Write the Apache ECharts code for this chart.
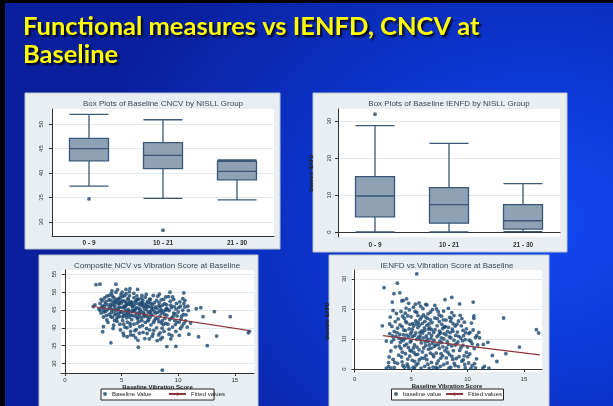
<!DOCTYPE html>
<html><head><meta charset="utf-8">
<script src="https://cdn.jsdelivr.net/npm/echarts@6/dist/echarts.min.js"></script>
<style>
html,body{margin:0;padding:0;width:613px;height:406px;overflow:hidden;background:#0a2ab8;}
#c{width:613px;height:406px;background:radial-gradient(ellipse 75% 90% at 88% 55%, #1249f2 0%, #0d3ad8 35%, #0b2cb8 70%, #091f9c 100%);}
</style></head><body><div id="c"></div>
<script>
// ---------- data ----------
const boxCategories = ['0 - 9', '10 - 21', '21 - 30'];
// [min, Q1, median, Q3, max]
const cncvBox = [[37.3, 42.5, 45.0, 47.1, 52.0], [34.8, 40.9, 43.6, 46.2, 50.9], [34.5, 38.6, 40.35, 42.4, 42.7]];
const cncvOutliers = [[0, 34.7], [1, 28.3]];
const ienfdBox = [[0, 4.1, 9.75, 15.0, 28.8], [0, 2.4, 7.4, 12.0, 24.0], [0.1, 0.8, 3.05, 7.4, 13.1]];
const ienfdOutliers = [[0, 31.9]];

const cncvTicks = [30, 35, 40, 45, 50];
const ienfdTicks = [0, 10, 20, 30];
const vibTicks = [0, 5, 10, 15];
const ncvTicks = [30, 35, 40, 45, 50, 55];
const ienfdScTicks = [0, 10, 20, 30];

const ncvScatter = [
[2.74,52.0],[3.09,52.15],[4.5,52.15],[5.39,50.7],[5.74,50.9],[6.42,50.7],[9.28,49.9],[10.5,49.7],
[4.06,35.8],[6.48,34.6],[8.6,28.2],[9.0,34.75],[9.8,34.8],[12.57,35.0],[13.4,37.7],[11.8,37.5],
[10.95,38.2],[14.6,43.1],[13.2,44.5],[16.2,38.6],[16.3,39.0],[11.6,45.3],[12.0,45.6],[12.2,43.1],
[11.1,41.3],[2.5,45.9],[2.65,46.4],[3.33,38.9],[3.4,40.3],
[3.0,45.2],[3.1,46.8],[3.2,44.1],[3.3,47.5],[3.4,43.0],[3.5,45.9],[3.5,48.3],[3.6,44.6],[3.7,42.2],
[3.8,46.4],[3.9,49.0],[3.9,43.7],[3.2,47.9],[3.4,45.0],[3.6,47.2],[3.8,41.5],[3.1,44.8],[3.7,48.8],
[3.3,46.1],[3.95,45.5],
[4.0,47.8],[4.1,44.2],[4.1,49.6],[4.2,42.9],[4.2,46.3],[4.3,48.5],[4.3,40.7],[4.4,45.4],[4.4,43.6],
[4.5,47.1],[4.5,49.9],[4.6,41.8],[4.6,44.9],[4.7,46.7],[4.7,48.1],[4.8,43.2],[4.8,45.8],[4.9,39.4],
[4.9,47.5],[4.0,45.9],[4.15,50.3],[4.35,46.9],[4.55,42.5],[4.75,44.0],[4.95,49.2],[4.25,39.8],
[4.65,50.6],[4.45,47.9],[4.85,41.0],[4.05,43.1],
[5.0,44.5],[5.0,46.9],[5.1,42.0],[5.1,48.7],[5.2,45.6],[5.2,43.3],[5.3,47.4],[5.3,40.2],[5.4,46.2],
[5.4,49.5],[5.5,44.1],[5.5,41.6],[5.6,47.8],[5.6,45.1],[5.7,43.0],[5.7,48.9],[5.8,46.4],[5.8,39.0],
[5.9,44.7],[5.9,42.3],[5.05,49.9],[5.15,38.5],[5.25,46.0],[5.35,44.9],[5.45,42.8],[5.55,48.2],
[5.65,46.6],[5.75,41.2],[5.85,47.2],[5.95,45.8],[5.2,37.8],[5.5,37.5],[5.8,38.0],[5.4,47.0],[5.6,43.9],
[6.0,46.0],[6.0,43.4],[6.1,48.4],[6.1,41.0],[6.2,45.2],[6.2,47.3],[6.3,44.0],[6.3,39.5],[6.4,46.8],
[6.4,42.5],[6.5,48.0],[6.5,45.5],[6.6,43.7],[6.6,40.3],[6.7,47.0],[6.7,44.6],[6.8,42.0],[6.8,49.0],
[6.9,45.9],[6.9,38.7],[6.05,37.9],[6.25,37.2],[6.45,36.5],[6.15,44.8],[6.35,48.9],[6.55,41.8],
[6.75,46.3],[6.95,43.1],[6.3,47.7],[6.6,46.5],[6.85,40.6],[6.45,43.0],
[7.0,46.6],[7.0,43.8],[7.1,41.5],[7.1,48.5],[7.2,45.0],[7.2,39.8],[7.3,47.4],[7.3,43.0],[7.4,45.9],
[7.4,42.2],[7.5,48.0],[7.5,44.5],[7.6,40.8],[7.6,46.8],[7.7,43.5],[7.7,37.6],[7.8,45.3],[7.8,49.0],
[7.9,42.0],[7.9,47.0],[7.05,37.0],[7.25,38.4],[7.45,36.9],[7.65,44.9],[7.85,39.3],[7.15,46.0],
[7.55,47.9],[7.35,44.3],
[8.0,45.8],[8.0,42.6],[8.1,47.6],[8.1,40.0],[8.2,44.3],[8.2,48.8],[8.3,41.7],[8.3,46.2],[8.4,43.3],
[8.4,38.6],[8.5,45.0],[8.5,47.8],[8.6,42.0],[8.6,37.3],[8.7,44.6],[8.7,40.9],[8.8,46.7],[8.8,43.7],
[8.9,41.2],[8.9,48.6],[8.15,36.4],[8.45,36.8],[8.75,39.0],[8.35,49.4],[8.55,44.1],[8.95,45.4],
[9.0,43.5],[9.0,46.4],[9.1,41.0],[9.2,44.8],[9.2,39.6],[9.3,47.4],[9.4,42.7],[9.4,45.6],[9.5,40.2],
[9.6,44.1],[9.6,47.9],[9.7,42.0],[9.8,45.2],[9.8,39.0],[9.9,43.3],[9.15,48.7],[9.45,37.8],[9.75,40.9],
[9.35,36.9],[9.85,46.8],
[10.0,44.4],[10.1,41.6],[10.2,46.0],[10.2,39.8],[10.3,43.2],[10.4,44.9],[10.5,41.2],[10.6,45.8],
[10.6,47.6],[10.7,43.6],[10.8,40.2],[10.9,44.8],[10.4,48.1],[10.1,37.9],[10.5,46.7],
[3.55,46.6],[3.65,43.4],[3.75,45.1],[3.85,47.7],[3.45,44.4],[3.25,45.7],[4.05,46.6],[4.12,45.1],
[4.22,47.4],[4.32,44.6],[4.42,46.1],[4.52,43.9],[4.62,47.6],[4.72,45.4],[4.82,46.9],[4.92,44.3],
[4.38,42.0],[4.68,43.0],[4.18,48.9],[4.88,48.4],
[5.02,45.7],[5.12,47.5],[5.22,44.0],[5.32,45.9],[5.42,43.5],[5.52,46.6],[5.62,44.6],[5.72,47.1],
[5.82,43.6],[5.92,46.9],[5.18,41.0],[5.48,40.0],[5.78,40.5],[5.28,49.0],[5.68,50.0],[5.08,43.0],
[6.02,44.7],[6.12,46.5],[6.22,43.2],[6.32,45.6],[6.42,47.9],[6.52,44.2],[6.62,45.1],[6.72,42.8],
[6.82,46.9],[6.92,44.3],[6.18,39.2],[6.58,38.5],[6.78,48.1],[6.38,41.3],[6.88,47.6],[6.08,49.6],
[7.02,45.3],[7.12,43.4],[7.22,46.7],[7.32,41.9],[7.42,47.0],[7.52,42.9],[7.62,45.7],[7.72,46.4],
[7.82,41.5],[7.92,44.4],[7.18,49.3],[7.48,39.4],[7.78,38.3],[7.28,45.9],[7.58,44.0],
[8.02,44.1],[8.12,45.4],[8.22,42.5],[8.32,47.0],[8.42,45.8],[8.52,41.3],[8.62,46.3],[8.72,47.9],
[8.82,42.6],[8.92,44.9],[8.28,38.0],[8.58,39.9],[8.38,44.7],
[9.05,45.2],[9.25,42.3],[9.35,46.3],[9.55,43.2],[9.65,45.9],[9.9,41.6],[9.2,38.2],[9.5,48.6],[9.7,43.9],
[10.05,45.6],[10.25,42.4],[10.45,43.7],[10.65,41.9],[10.85,46.0],[10.35,40.5],[10.15,47.2]
];
const ncvFit = [[2.4, 46.0], [16.3, 39.2]];

const ienfdScatter = [
[2.6,27.1],[2.45,14.4],[2.8,9.3],[3.33,22.3],[3.48,25.1],[3.78,28.6],[4.0,25.4],[2.8,0.3],[3.0,0.8],
[3.2,0.3],[3.5,0.5],[3.1,11.8],[3.3,14.2],[3.4,3.2],[3.5,12.5],[3.6,7.4],[3.7,18.5],[3.8,1.9],
[3.9,10.3],[3.2,6.0],[3.6,15.8],[3.9,4.6],[3.0,2.1],[3.75,12.1],[3.45,9.8],[3.85,16.7],[3.15,17.3],
[4.0,11.5],[4.1,6.8],[4.1,19.2],[4.2,2.4],[4.2,14.1],[4.3,9.5],[4.3,22.9],[4.4,0.6],[4.4,16.9],
[4.5,5.1],[4.5,12.8],[4.6,8.3],[4.6,23.4],[4.7,3.3],[4.7,17.7],[4.8,10.7],[4.8,0.2],[4.9,14.9],
[4.9,6.2],[4.05,8.9],[4.25,17.6],[4.45,10.2],[4.65,1.6],[4.85,19.7],[4.95,11.8],[4.15,4.0],
[4.35,13.0],[4.55,20.3],[4.75,7.2],[4.6,15.4],
[5.0,9.4],[5.0,17.4],[5.1,2.9],[5.1,13.3],[5.2,20.6],[5.2,7.0],[5.3,11.2],[5.3,0.4],[5.4,16.0],
[5.4,4.8],[5.5,31.7],[5.5,9.9],[5.5,18.9],[5.6,1.8],[5.6,13.8],[5.7,22.0],[5.7,6.4],[5.8,11.0],
[5.8,16.6],[5.9,3.6],[5.9,8.7],[5.05,12.4],[5.15,15.1],[5.25,5.5],[5.35,19.2],[5.45,1.3],[5.65,10.6],
[5.75,14.6],[5.85,20.9],[5.95,12.7],[5.3,8.0],[5.6,17.8],
[6.0,15.2],[6.0,5.7],[6.1,10.4],[6.1,18.0],[6.2,0.9],[6.2,12.8],[6.3,21.5],[6.3,7.8],[6.4,3.1],
[6.4,14.6],[6.5,9.2],[6.5,18.4],[6.6,0.3],[6.6,11.9],[6.7,5.3],[6.7,16.4],[6.8,13.1],[6.8,2.2],
[6.9,8.6],[6.9,19.8],[6.05,20.1],[6.15,3.6],[6.35,11.0],[6.45,16.9],[6.55,6.6],[6.75,10.1],
[6.85,15.5],[6.95,0.6],[6.25,9.0],[6.65,13.7],[6.4,21.4],
[7.0,12.2],[7.0,4.1],[7.1,17.0],[7.1,21.2],[7.2,8.0],[7.2,0.5],[7.3,14.4],[7.3,10.8],[7.4,2.7],
[7.4,19.1],[7.5,6.9],[7.5,15.8],[7.6,12.0],[7.6,0.9],[7.7,8.8],[7.7,17.6],[7.8,4.4],[7.8,13.5],
[7.9,10.0],[7.9,1.5],[7.05,7.5],[7.25,20.0],[7.45,11.4],[7.65,5.1],[7.85,16.4],[7.35,0.2],[7.55,9.3],
[7.95,14.0],
[8.0,23.1],[8.0,6.1],[8.1,11.4],[8.1,16.3],[8.2,2.0],[8.2,9.1],[8.3,13.9],[8.3,20.2],[8.4,4.8],
[8.4,10.7],[8.5,0.6],[8.5,15.9],[8.6,23.9],[8.6,7.7],[8.6,18.8],[8.7,12.6],[8.7,3.2],[8.8,9.6],
[8.8,17.8],[8.9,1.1],[8.9,14.3],[8.15,7.0],[8.45,12.1],[8.75,6.1],[8.35,0.3],[8.95,11.2],[8.55,16.8],
[9.0,8.4],[9.0,3.5],[9.1,12.3],[9.2,16.0],[9.2,0.8],[9.3,21.7],[9.3,6.2],[9.4,10.3],[9.5,16.8],
[9.5,2.6],[9.6,7.9],[9.6,12.9],[9.7,4.4],[9.8,9.8],[9.8,0.4],[9.9,13.4],[9.9,5.5],[9.15,9.0],
[9.45,14.4],[9.75,1.5],[9.25,4.1],[9.65,11.1],
[10.0,7.3],[10.1,11.8],[10.1,2.0],[10.2,5.0],[10.3,9.2],[10.4,1.1],[10.5,22.3],[10.5,13.0],
[10.56,17.7],[10.56,16.9],[10.6,6.8],[10.7,10.5],[10.8,3.4],[10.9,8.0],[11.0,12.2],[11.06,10.4],
[11.4,8.2],[11.8,8.9],[11.35,0.3],[11.9,0.3],[12.2,4.5],[12.6,2.5],[13.4,5.1],[14.6,7.3],[13.2,17.0],
[16.1,13.1],[16.3,12.0],[10.3,0.2],[10.7,0.4],[11.5,0.9],
[3.05,4.0],[3.25,9.0],[3.35,11.0],[3.55,2.2],[3.65,10.9],[3.8,13.6],[3.95,7.6],[3.4,19.5],[3.1,15.0],
[4.02,14.7],[4.12,10.0],[4.22,5.6],[4.32,11.4],[4.42,7.8],[4.52,15.9],[4.62,11.3],[4.72,0.9],
[4.82,13.4],[4.92,9.0],[4.28,1.2],[4.48,18.6],[4.78,21.9],[4.18,22.7],[4.88,4.3],
[5.02,6.0],[5.12,10.8],[5.22,14.3],[5.32,2.5],[5.42,12.0],[5.52,7.3],[5.62,15.6],[5.72,3.0],
[5.82,9.8],[5.92,17.3],[5.18,0.5],[5.38,21.6],[5.58,4.9],[5.78,12.2],[5.48,14.9],[5.88,0.3],
[6.02,12.0],[6.12,7.0],[6.22,15.9],[6.32,4.5],[6.42,10.0],[6.52,13.3],[6.62,8.0],[6.72,19.0],
[6.82,11.1],[6.92,4.8],[6.28,17.4],[6.48,1.6],[6.78,6.9],[6.58,15.0],[6.18,13.7],
[7.02,9.6],[7.12,13.1],[7.22,5.3],[7.32,16.8],[7.42,8.1],[7.52,12.6],[7.62,3.6],[7.72,14.9],
[7.82,7.4],[7.92,11.8],[7.28,1.8],[7.48,18.0],[7.68,10.4],[7.88,19.3],
[8.02,14.1],[8.12,3.7],[8.22,12.5],[8.32,8.2],[8.42,17.2],[8.52,10.4],[8.62,4.2],[8.72,15.1],
[8.82,1.9],[8.92,8.0],[8.25,5.6],[8.65,13.3],
[9.05,14.9],[9.22,10.9],[9.42,7.1],[9.62,3.0],[9.82,12.1],[9.35,17.9],[9.55,9.4],[9.72,15.6],
[10.02,4.1],[10.22,12.2],[10.42,8.4],[10.62,1.8],[10.82,11.1],[10.35,15.3],[10.15,9.6]
];
const ienfdFit = [[2.5, 11.1], [16.4, 4.7]];

// ---------- styles ----------
const NAVY = '#1a476f';
const FIT = '#90353b';
const PANEL = '#e8eef1';
const FONT = 'Liberation Sans, Arial, sans-serif';
const DOT = 3.8;

function yAxis(grid, min, max, ticks, margin, name, nameGap) {
  return {
    type: 'value', gridIndex: grid, min: min, max: max,
    name: name || '', nameLocation: 'middle', nameGap: nameGap || 0, nameRotate: 90,
    nameTextStyle: { fontSize: 5, color: '#222', fontWeight: 'bold', fontFamily: FONT },
    axisLine: { show: true, lineStyle: { color: '#333', width: 1 } },
    axisTick: { show: true, length: 3, customValues: ticks, lineStyle: { color: '#333' } },
    axisLabel: { customValues: ticks, rotate: 90, fontSize: 6, color: '#333', margin: margin, fontFamily: FONT },
    splitLine: { show: true, lineStyle: { color: '#e2e9ed', width: 1 } }
  };
}
function catAxis(grid, margin) {
  return {
    type: 'category', gridIndex: grid, data: boxCategories, boundaryGap: true,
    axisLine: { show: true, lineStyle: { color: '#333', width: 1 } },
    axisTick: { show: false },
    axisLabel: { fontSize: 6.5, color: '#333', margin: margin, fontFamily: FONT, fontWeight: 'bold' },
    splitLine: { show: false }
  };
}
function valXAxis(grid, min, max) {
  return {
    type: 'value', gridIndex: grid, min: min, max: max,
    name: 'Baseline Vibration Score', nameLocation: 'middle', nameGap: 11,
    nameTextStyle: { fontSize: 6, color: '#222', fontWeight: 'bold', fontFamily: FONT },
    axisLine: { show: true, lineStyle: { color: '#333', width: 1 } },
    axisTick: { show: true, length: 3, customValues: vibTicks, lineStyle: { color: '#333' } },
    axisLabel: { customValues: vibTicks, fontSize: 6, color: '#333', margin: 4, fontFamily: FONT },
    splitLine: { show: false }
  };
}
function panelText(x, y, text) {
  return { type: 'text', x: x, y: y, z: 5,
    style: { text: text, fill: '#3c4a5a', font: '8px ' + FONT, align: 'center', verticalAlign: 'middle' } };
}
function panelRect(x, y, w, h) {
  return { type: 'rect', z: -10, shape: { x: x, y: y, width: w, height: h },
    style: { fill: PANEL, stroke: '#b9c5cc', lineWidth: 1 } };
}
const boxStyle = { color: '#8ea1b5', borderColor: '#3b5878', borderWidth: 1.3 };
const titleStyle = { fill: '#ffff00', font: 'bold 25.5px Lato, sans-serif', verticalAlign: 'middle',
  textShadowColor: 'rgba(0,0,0,0.85)', textShadowOffsetX: 2, textShadowOffsetY: 2, textShadowBlur: 2 };

const option = {
  animation: false,
  textStyle: { fontFamily: FONT },
  grid: [
    { left: 52, top: 109, width: 222, height: 127, show: true, backgroundColor: '#fff', borderWidth: 0 },
    { left: 338, top: 109, width: 222, height: 128, show: true, backgroundColor: '#fff', borderWidth: 0 },
    { left: 61, top: 270, width: 193, height: 103, show: true, backgroundColor: '#fff', borderWidth: 0 },
    { left: 352, top: 270, width: 190, height: 102, show: true, backgroundColor: '#fff', borderWidth: 0 }
  ],
  xAxis: [catAxis(0, 4), catAxis(1, 5), valXAxis(2, -0.35, 16.7), valXAxis(3, -0.24, 16.6)],
  yAxis: [
    yAxis(0, 27.1, 53.1, cncvTicks, 8),
    yAxis(1, -1.35, 33.3, ienfdTicks, 6, 'Baseline IENFD', 24),
    yAxis(2, 27.4, 56.1, ncvTicks, 4),
    yAxis(3, -1, 33, ienfdScTicks, 5, 'Baseline IENFD', 22)
  ],
  legend: [
    { left: 103, top: 391, padding: 0, itemWidth: 4, itemHeight: 4, data: ['Baseline Value'],
      textStyle: { fontSize: 6, color: '#222' }, selectedMode: false },
    { left: 168, top: 391, padding: 0, itemWidth: 17, itemHeight: 4, data: ['Fitted values'],
      textStyle: { fontSize: 6, color: '#222' }, selectedMode: false },
    { left: 394, top: 391, padding: 0, itemWidth: 4, itemHeight: 4, data: ['baseline value'],
      textStyle: { fontSize: 6, color: '#222' }, selectedMode: false },
    { left: 445, top: 391, padding: 0, itemWidth: 17, itemHeight: 4, data: ['Fitted values '],
      textStyle: { fontSize: 6, color: '#222' }, selectedMode: false, formatter: function () { return 'Fitted values'; } }
  ],
  graphic: [
    { type: 'rect', z: -20, shape: { x: 0, y: 0, width: 613, height: 3 }, style: { fill: '#000' } },
    { type: 'rect', z: -20, shape: { x: 0, y: 0, width: 5, height: 406 }, style: { fill: '#000' } },
    panelRect(25, 93, 255, 156),
    panelRect(313, 93, 254, 159),
    panelRect(39, 255, 219, 152),
    panelRect(329, 255, 220, 152),
    { type: 'rect', z: 1, shape: { x: 101, y: 389, width: 113, height: 11 }, style: { fill: '#fff', stroke: '#222', lineWidth: 1 } },
    { type: 'rect', z: 1, shape: { x: 391.5, y: 389, width: 112, height: 11 }, style: { fill: '#fff', stroke: '#222', lineWidth: 1 } },
    panelText(163, 103.5, 'Box Plots of Baseline CNCV by NISLL Group'),
    panelText(449, 103.5, 'Box Plots of Baseline IENFD by NISLL Group'),
    panelText(157, 266, 'Composite NCV vs Vibration Score at Baseline'),
    panelText(447, 266, 'IENFD vs Vibration Score at Baseline'),
    { type: 'text', x: 23, y: 27, z: 5, style: Object.assign({ text: 'Functional measures vs IENFD, CNCV at' }, titleStyle) },
    { type: 'text', x: 23, y: 55, z: 5, style: Object.assign({ text: 'Baseline' }, titleStyle) }
  ],
  series: [
    { type: 'boxplot', xAxisIndex: 0, yAxisIndex: 0, data: cncvBox, boxWidth: [39, 39], itemStyle: boxStyle, emphasis: { disabled: true } },
    { type: 'scatter', xAxisIndex: 0, yAxisIndex: 0, data: cncvOutliers, symbolSize: DOT, itemStyle: { color: NAVY } },
    { type: 'boxplot', xAxisIndex: 1, yAxisIndex: 1, data: ienfdBox, boxWidth: [39, 39], itemStyle: boxStyle, emphasis: { disabled: true } },
    { type: 'scatter', xAxisIndex: 1, yAxisIndex: 1, data: ienfdOutliers, symbolSize: DOT, itemStyle: { color: NAVY } },
    { name: 'Baseline Value', type: 'scatter', xAxisIndex: 2, yAxisIndex: 2, data: ncvScatter, symbolSize: DOT, itemStyle: { color: NAVY } },
    { name: 'Fitted values', type: 'line', xAxisIndex: 2, yAxisIndex: 2, data: ncvFit, symbol: 'none', lineStyle: { color: FIT, width: 1.2 }, itemStyle: { color: FIT }, z: 3 },
    { name: 'baseline value', type: 'scatter', xAxisIndex: 3, yAxisIndex: 3, data: ienfdScatter, symbolSize: DOT, itemStyle: { color: NAVY } },
    { name: 'Fitted values ', type: 'line', xAxisIndex: 3, yAxisIndex: 3, data: ienfdFit, symbol: 'none', lineStyle: { color: FIT, width: 1.2 }, itemStyle: { color: FIT }, z: 3 }
  ]
};
const chart = echarts.init(document.getElementById('c'), null, { renderer: 'canvas' });
chart.setOption(option);
</script></body></html>
